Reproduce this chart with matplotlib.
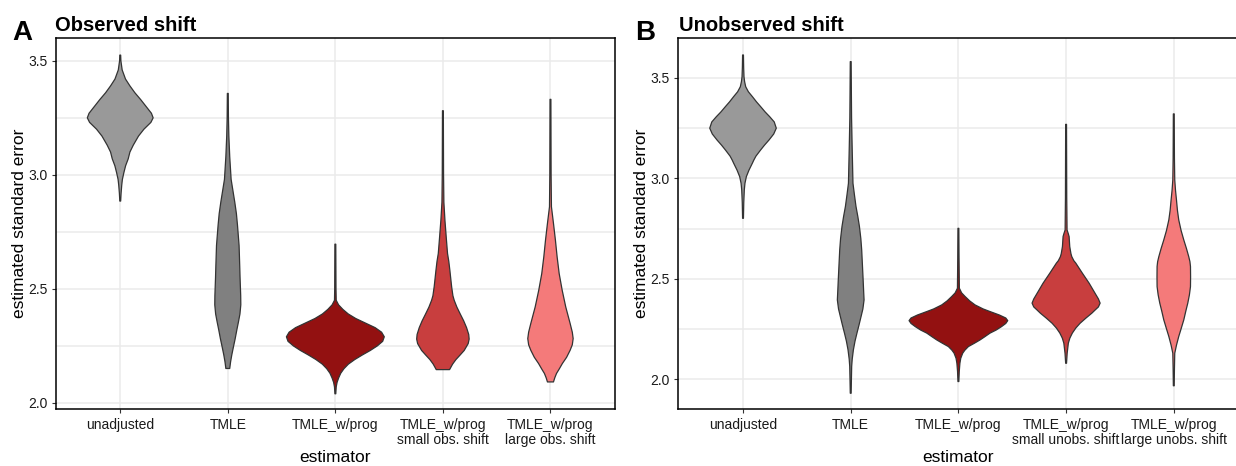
import matplotlib

matplotlib.use("Agg")

import matplotlib.pyplot as plt
import numpy as np

plt.rcParams["font.family"] = ["Liberation Sans", "DejaVu Sans"]

# estimator order on the x axis
obs_labels = ["unadjusted", "TMLE", "TMLE_w/prog",
              "TMLE_w/prog\nsmall obs. shift", "TMLE_w/prog\nlarge obs. shift"]
unobs_labels = ["unadjusted", "TMLE", "TMLE_w/prog",
                "TMLE_w/prog\nsmall unobs. shift", "TMLE_w/prog\nlarge unobs. shift"]
fill_colors = ["#999999", "#808080", "#931111", "#C83E3E", "#F47A7A"]

# violin outlines: estimated SE values and density half-widths (x units)
obs_unadj_y = [3.525, 3.50, 3.46, 3.42, 3.39, 3.36, 3.33, 3.30, 3.27, 3.25, 3.23, 3.20, 3.17,
               3.13, 3.10, 3.07, 3.04, 3.01, 2.98, 2.955, 2.92, 2.885]
obs_unadj_w = [0.004, 0.006, 0.018, 0.049, 0.09, 0.136, 0.19, 0.24, 0.29, 0.306, 0.285, 0.22, 0.17,
               0.121, 0.09, 0.074, 0.05, 0.034, 0.02, 0.014, 0.008, 0.004]
obs_tmle_y = [3.357, 3.25, 3.17, 3.08, 2.98, 2.93, 2.88, 2.83, 2.78, 2.69, 2.60, 2.55, 2.47, 2.43,
              2.39, 2.355, 2.32, 2.28, 2.24, 2.21, 2.18, 2.151]
obs_tmle_w = [0.004, 0.006, 0.01, 0.018, 0.031, 0.048, 0.065, 0.08, 0.09, 0.105, 0.111, 0.114, 0.12,
              0.121, 0.113, 0.099, 0.084, 0.068, 0.05, 0.037, 0.026, 0.018]
obs_prog_y = [2.696, 2.60, 2.50, 2.45, 2.43, 2.41, 2.39, 2.37, 2.35, 2.33, 2.31, 2.29, 2.27, 2.25,
              2.23, 2.21, 2.19, 2.17, 2.15, 2.13, 2.11, 2.09, 2.07, 2.04]
obs_prog_w = [0.004, 0.005, 0.006, 0.008, 0.03, 0.07, 0.12, 0.19, 0.28, 0.37, 0.43, 0.455, 0.44, 0.39,
              0.325, 0.25, 0.18, 0.121, 0.08, 0.05, 0.031, 0.016, 0.008, 0.004]
obs_small_y = [3.281, 3.0, 2.88, 2.80, 2.72, 2.655, 2.62, 2.58, 2.51, 2.47, 2.45, 2.42, 2.39, 2.36,
               2.33, 2.30, 2.28, 2.26, 2.23, 2.21, 2.19, 2.17, 2.146]
obs_small_w = [0.004, 0.006, 0.009, 0.019, 0.032, 0.043, 0.055, 0.065, 0.081, 0.093, 0.105, 0.13,
               0.161, 0.193, 0.22, 0.24, 0.244, 0.235, 0.198, 0.16, 0.121, 0.09, 0.062]
obs_large_y = [3.331, 3.0, 2.86, 2.787, 2.714, 2.64, 2.567, 2.494, 2.421, 2.348, 2.31, 2.282, 2.255,
               2.231, 2.20, 2.173, 2.15, 2.129, 2.11, 2.092]
obs_large_w = [0.004, 0.006, 0.009, 0.028, 0.046, 0.062, 0.081, 0.109, 0.142, 0.183, 0.203, 0.211,
               0.203, 0.183, 0.15, 0.111, 0.083, 0.056, 0.04, 0.028]

unobs_unadj_y = [3.613, 3.55, 3.505, 3.48, 3.455, 3.43, 3.406, 3.38, 3.356, 3.33, 3.306, 3.28, 3.249,
                 3.22, 3.19, 3.165, 3.141, 3.11, 3.09, 3.075, 3.04, 3.008, 2.975, 2.942, 2.88, 2.801]
unobs_unadj_w = [0.004, 0.006, 0.009, 0.015, 0.025, 0.05, 0.087, 0.125, 0.164, 0.205, 0.248, 0.29,
                 0.309, 0.285, 0.241, 0.2, 0.164, 0.12, 0.1, 0.087, 0.055, 0.031, 0.018, 0.012,
                 0.007, 0.004]
unobs_tmle_y = [3.58, 3.3, 3.14, 2.975, 2.92, 2.86, 2.81, 2.76, 2.70, 2.644, 2.511, 2.44, 2.395,
                2.35, 2.312, 2.27, 2.23, 2.19, 2.147, 2.10, 2.064, 1.931]
unobs_tmle_w = [0.004, 0.008, 0.014, 0.021, 0.034, 0.049, 0.066, 0.081, 0.094, 0.102, 0.114, 0.12,
                0.124, 0.113, 0.096, 0.077, 0.058, 0.04, 0.025, 0.014, 0.009, 0.004]
unobs_prog_y = [2.751, 2.6, 2.453, 2.43, 2.412, 2.39, 2.37, 2.35, 2.337, 2.32, 2.305, 2.292, 2.278,
                2.262, 2.245, 2.23, 2.21, 2.196, 2.18, 2.163, 2.145, 2.13, 2.105, 2.08, 2.04, 1.989]
unobs_prog_w = [0.004, 0.006, 0.009, 0.03, 0.062, 0.105, 0.155, 0.23, 0.294, 0.38, 0.44, 0.458, 0.44,
                0.4, 0.35, 0.294, 0.24, 0.201, 0.15, 0.093, 0.06, 0.04, 0.022, 0.014, 0.008, 0.004]
unobs_small_y = [3.268, 2.9, 2.743, 2.725, 2.71, 2.66, 2.625, 2.61, 2.59, 2.578, 2.528, 2.478, 2.428,
                 2.40, 2.379, 2.36, 2.345, 2.329, 2.305, 2.279, 2.255, 2.23, 2.205, 2.18, 2.13, 2.08]
unobs_small_w = [0.004, 0.006, 0.009, 0.02, 0.028, 0.034, 0.045, 0.053, 0.072, 0.09, 0.151, 0.214,
                 0.269, 0.3, 0.316, 0.3, 0.27, 0.239, 0.185, 0.13, 0.09, 0.058, 0.035, 0.021, 0.01,
                 0.004]
unobs_large_y = [3.32, 3.1, 2.992, 2.94, 2.892, 2.84, 2.793, 2.74, 2.693, 2.65, 2.61, 2.585, 2.561,
                 2.51, 2.461, 2.42, 2.379, 2.34, 2.296, 2.255, 2.213, 2.17, 2.13, 2.05, 1.968]
unobs_large_w = [0.004, 0.006, 0.009, 0.016, 0.025, 0.034, 0.046, 0.068, 0.093, 0.118, 0.139, 0.15,
                 0.155, 0.156, 0.155, 0.145, 0.13, 0.112, 0.093, 0.07, 0.046, 0.025, 0.009, 0.006,
                 0.004]

obs_violins = [(obs_unadj_y, obs_unadj_w), (obs_tmle_y, obs_tmle_w), (obs_prog_y, obs_prog_w),
               (obs_small_y, obs_small_w), (obs_large_y, obs_large_w)]
unobs_violins = [(unobs_unadj_y, unobs_unadj_w), (unobs_tmle_y, unobs_tmle_w),
                 (unobs_prog_y, unobs_prog_w), (unobs_small_y, unobs_small_w),
                 (unobs_large_y, unobs_large_w)]


def draw_panel(ax, violins, labels, ylim):
    for i, ((ys, ws), color) in enumerate(zip(violins, fill_colors)):
        pos = i + 1
        ys = np.asarray(ys)
        ws = np.asarray(ws)
        xs = np.concatenate([pos + ws, (pos - ws)[::-1]])
        yy = np.concatenate([ys, ys[::-1]])
        ax.fill(xs, yy, facecolor=color, edgecolor="#333333", linewidth=0.9,
                joinstyle="round", zorder=3)

    ax.set_xlim(0.4, 5.6)
    ax.set_ylim(*ylim)
    ax.set_xticks(np.arange(1, 6))
    ax.set_xticklabels(labels, fontsize=10, color="#1a1a1a", linespacing=1.15)
    ax.set_yticks([2.0, 2.5, 3.0, 3.5])
    ax.set_yticklabels(["2.0", "2.5", "3.0", "3.5"], fontsize=10, color="#1a1a1a")
    ax.set_yticks([2.25, 2.75, 3.25], minor=True)
    ax.tick_params(axis="both", which="major", length=3, width=0.8, color="#333333", pad=3)
    ax.tick_params(axis="y", which="minor", length=0)
    ax.grid(True, which="both", color="#EBEBEB", linewidth=1.1)
    ax.set_axisbelow(True)
    for spine in ax.spines.values():
        spine.set_color("black")
        spine.set_linewidth(1.1)
    ax.set_xlabel("estimator", fontsize=12.5, labelpad=2)
    ax.set_ylabel("estimated standard error", fontsize=12.5, labelpad=1)


fig = plt.figure(figsize=(12.36, 4.66), dpi=100)
W, H = 1236, 466

ax_a = fig.add_axes([55.7 / W, (H - 409.3) / H, (615 - 55.7) / W, (409.3 - 38) / H])
ax_b = fig.add_axes([678.4 / W, (H - 409.3) / H, 560 / W, (409.3 - 38.3) / H])

draw_panel(ax_a, obs_violins, obs_labels, (1.972, 3.60))
draw_panel(ax_b, unobs_violins, unobs_labels, (1.851, 3.696))

fig.text(12 / W, (H - 39.5) / H, "A", fontsize=20, fontweight="bold", va="baseline")
fig.text(55 / W, (H - 31) / H, "Observed shift", fontsize=14.5, fontweight="bold", va="baseline")
fig.text(635 / W, (H - 39.5) / H, "B", fontsize=20, fontweight="bold", va="baseline")
fig.text(679 / W, (H - 31) / H, "Unobserved shift", fontsize=14.5, fontweight="bold", va="baseline")

fig.savefig("out.png", dpi=100)
plt.close(fig)
